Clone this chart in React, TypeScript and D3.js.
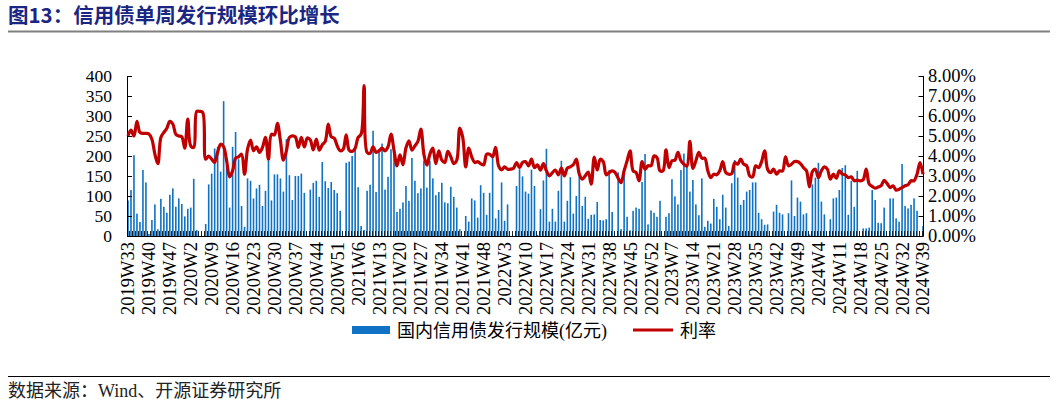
import React from "react";
import * as d3 from "d3";

const yearWeeks: [number, number, number][] = [
  [2019, 33, 52],
  [2020, 1, 52],
  [2021, 1, 52],
  [2022, 1, 52],
  [2023, 1, 52],
  [2024, 1, 39],
];
const categories: string[] = [];
yearWeeks.forEach(([y, a, b]) => {
  for (let w = a; w <= b; w++) categories.push(`${y}W${w}`);
});

const issuance: number[] = [
  89, 115, 202, 56, 35, 165, 134, 5, 40, 79, 17, 93, 73, 58, 103, 119, 73, 94, 80, 49,
  68, 71, 143, 15, 0, 0, 30, 129, 156, 219, 223, 161, 337, 175, 71, 223, 260, 192, 75, 23,
  144, 138, 94, 119, 128, 75, 113, 188, 89, 154, 154, 144, 111, 242, 152, 90, 150, 150, 156, 108,
  0, 116, 133, 138, 98, 185, 137, 120, 135, 115, 107, 63, 0, 183, 186, 200, 215, 122, 25, 15,
  113, 128, 263, 110, 213, 231, 116, 148, 217, 213, 60, 68, 84, 125, 88, 195, 138, 107, 119, 188,
  121, 188, 144, 102, 110, 133, 84, 82, 123, 98, 71, 17, 0, 50, 36, 94, 89, 46, 127, 108,
  53, 108, 196, 44, 65, 134, 38, 79, 0, 0, 125, 167, 149, 111, 106, 166, 125, 3, 67, 139,
  218, 36, 68, 36, 113, 188, 36, 88, 147, 56, 100, 165, 75, 98, 43, 53, 54, 85, 40, 39,
  42, 165, 60, 0, 159, 17, 170, 48, 14, 63, 71, 68, 135, 205, 29, 64, 58, 48, 88, 0,
  48, 57, 142, 99, 79, 165, 206, 176, 111, 140, 79, 52, 144, 23, 38, 31, 93, 73, 42, 103,
  71, 25, 132, 190, 146, 78, 90, 111, 115, 134, 134, 58, 42, 28, 29, 0, 61, 78, 58, 54,
  0, 57, 139, 50, 96, 86, 54, 57, 4, 129, 146, 183, 86, 54, 0, 42, 94, 96, 115, 170,
  177, 53, 138, 73, 163, 0, 19, 19, 21, 115, 90, 33, 32, 71, 0, 94, 94, 44, 36, 180,
  75, 69, 78, 94, 63, 0, 25,
];

const rate: number[] = [
  5.01, 5.3, 5.0, 5.73, 5.18, 5.13, 5.13, 5.1, 4.84, 4.09, 3.62, 4.93, 5.18, 5.39, 5.73, 5.6, 5.09, 5.0, 4.96, 4.39,
  5.85, 4.5, 4.43, 6.23, 6.23, 6.18, 3.84, 4.0, 3.84, 3.68, 4.2, 4.59, 4.46, 3.76, 2.96, 3.26, 3.89, 3.96, 4.09, 3.09,
  4.34, 4.79, 4.26, 4.46, 4.18, 4.43, 4.93, 3.84, 5.09, 5.06, 5.63, 4.76, 3.79, 4.26, 4.93, 5.01, 4.96, 4.43, 4.93, 4.45,
  4.9, 4.8, 4.3, 4.84, 4.29, 4.56, 4.73, 5.6, 4.96, 4.89, 4.51, 4.26, 4.34, 5.06, 4.29, 4.23, 4.39, 4.93, 5.09, 7.52,
  4.18, 4.13, 4.46, 4.18, 4.26, 4.39, 4.26, 4.46, 5.09, 4.29, 3.51, 4.06, 3.56, 4.4, 4.76, 4.29, 4.51, 4.73, 5.34, 4.09,
  3.54, 4.09, 4.39, 3.62, 4.26, 3.79, 3.67, 4.23, 3.96, 3.62, 3.79, 5.39, 4.93, 3.46, 4.39, 3.96, 3.67, 3.72, 3.62, 3.56,
  4.09, 4.09, 3.96, 4.43, 3.51, 3.31, 3.46, 3.34, 3.34, 3.39, 3.67, 3.42, 3.67, 3.72, 3.51, 3.84, 3.42, 3.56, 3.29, 3.62,
  3.26, 3.01, 3.17, 3.29, 3.06, 3.39, 3.01, 3.39, 3.46, 3.56, 3.84, 3.09, 2.84, 3.01, 3.2, 2.59, 3.94, 3.3, 3.84, 3.72,
  3.06, 3.17, 3.26, 3.17, 2.89, 2.67, 3.26, 3.76, 4.26, 3.26, 3.17, 2.76, 3.72, 3.34, 3.51, 3.51, 4.0, 3.92, 3.26, 3.26,
  4.31, 3.42, 3.76, 3.79, 4.18, 3.76, 3.59, 3.5, 4.73, 3.38, 3.76, 4.18, 3.89, 3.89, 3.26, 2.92, 3.09, 3.06, 3.26, 3.72,
  3.17, 3.09, 3.12, 3.67, 3.59, 3.84, 3.59, 3.51, 3.01, 2.96, 3.51, 3.42, 3.72, 4.26, 3.34, 3.17, 3.34, 3.09, 3.26, 3.25,
  3.96, 3.51, 3.59, 3.72, 3.72, 3.62, 3.42, 3.26, 2.46, 3.22, 3.34, 2.92, 3.26, 3.46, 3.34, 2.84, 3.09, 2.89, 3.26, 3.09,
  3.06, 2.92, 2.96, 2.76, 2.79, 2.76, 2.82, 3.35, 2.6, 2.48, 2.39, 2.45, 2.52, 2.78, 2.62, 2.42, 2.51, 2.29, 2.34, 2.42,
  2.51, 2.56, 2.76, 2.76, 3.09, 3.67, 3.09,
];

const leftTicks = [0, 50, 100, 150, 200, 250, 300, 350, 400];
const rightTicks = [0, 1, 2, 3, 4, 5, 6, 7, 8];
const labelEvery = 7;

const title = "图13：信用债单周发行规模环比增长";
const source = "数据来源：Wind、开源证券研究所";
const legendBar = "国内信用债发行规模(亿元)";
const legendLine = "利率";

const W = 1057;
const H = 405;
const plotLeft = 126.5;
const plotRight = 924.5;
const plotTop = 76;
const plotBottom = 236;
const serif = "'Liberation Serif', 'Times New Roman', 'Noto Sans CJK SC', serif";
const cjk = "'Liberation Serif', 'Noto Sans CJK SC', serif";

export default function App() {
  const x = d3.scaleBand<string>().domain(categories).range([plotLeft, plotRight]).paddingInner(0).paddingOuter(0);
  const yL = d3.scaleLinear().domain([0, 400]).range([plotBottom, plotTop]);
  const yR = d3.scaleLinear().domain([0, 8]).range([plotBottom, plotTop]);
  const step = x.bandwidth();
  const barW = 1.6;
  const line = d3
    .line<number>()
    .x((_, i) => (x(categories[i]) as number) + step / 2)
    .y((d) => yR(d))
    .curve(d3.curveCatmullRom.alpha(0.5));

  const axisL = 127;
  const axisR = 923.5;

  return (
    <svg
      width={W}
      height={H}
      style={{ position: "absolute", left: 0, top: 0, background: "#fff" }}
    >
      <text x={8} y={23} fontFamily="'Noto Sans CJK SC', sans-serif" fontWeight="bold" fontSize={20.5} fill="#1b2683">
        {title}
      </text>
      <line x1={8} x2={1050} y1={31.5} y2={31.5} stroke="#808080" strokeWidth={2} />

      {/* bars */}
      {issuance.map((v, i) => (
        <rect
          key={i}
          x={(x(categories[i]) as number) + step / 2 - barW / 2}
          y={yL(v)}
          width={barW}
          height={plotBottom - yL(v)}
          fill="#0f72c4"
        />
      ))}

      {/* x axis */}
      <line x1={axisL} x2={axisR} y1={plotBottom + 0.5} y2={plotBottom + 0.5} stroke="#000" strokeWidth={1} />
      {categories.map((c, i) => {
        const xx = Math.round(x(c) as number) + 0.5;
        return <line key={"t" + i} x1={xx} x2={xx} y1={plotBottom} y2={plotBottom - 5} stroke="#222" strokeWidth={1} />;
      })}
      {categories.map((c, i) =>
        i % labelEvery === 0 ? (
          <text
            key={"l" + i}
            transform={`translate(${(x(c) as number) + step / 2},242) rotate(-90)`}
            textAnchor="end"
            dy="0.35em"
            fontFamily={serif}
            fontSize={18.5}
            fill="#000"
          >
            {c}
          </text>
        ) : null
      )}

      {/* left axis */}
      <line x1={axisL + 0.5} x2={axisL + 0.5} y1={plotTop} y2={plotBottom} stroke="#000" />
      {leftTicks.map((t) => (
        <g key={"yl" + t}>
          <line x1={axisL} x2={axisL + 5} y1={Math.round(yL(t)) + 0.5} y2={Math.round(yL(t)) + 0.5} stroke="#000" />
          <text x={112} y={yL(t)} dy="0.35em" textAnchor="end" fontFamily={serif} fontSize={17.5}>
            {t}
          </text>
        </g>
      ))}

      {/* right axis */}
      <line x1={axisR} x2={axisR} y1={plotTop} y2={plotBottom} stroke="#000" />
      {rightTicks.map((t) => (
        <g key={"yr" + t}>
          <line x1={axisR - 5} x2={axisR} y1={Math.round(yR(t)) + 0.5} y2={Math.round(yR(t)) + 0.5} stroke="#000" />
          <text x={928} y={yR(t)} dy="0.35em" textAnchor="start" fontFamily={serif} fontSize={18.5}>
            {t.toFixed(2) + "%"}
          </text>
        </g>
      ))}

      {/* rate line */}
      <path d={line(rate) || ""} fill="none" stroke="#c00000" strokeWidth={3.2} strokeLinejoin="round" />

      {/* legend */}
      <rect x={352} y={326} width={38} height={8} fill="#0f72c4" />
      <text x={397} y={337} fontFamily={cjk} fontSize={18}>
        {legendBar}
      </text>
      <line x1={633} x2={673} y1={330} y2={330} stroke="#c00000" strokeWidth={3} />
      <text x={680} y={337} fontFamily={cjk} fontSize={18}>
        {legendLine}
      </text>

      <line x1={8} x2={1050} y1={376.5} y2={376.5} stroke="#000" strokeWidth={1} />
      <text x={8} y={397} fontFamily={cjk} fontSize={18} fill="#222">
        {source}
      </text>
    </svg>
  );
}
